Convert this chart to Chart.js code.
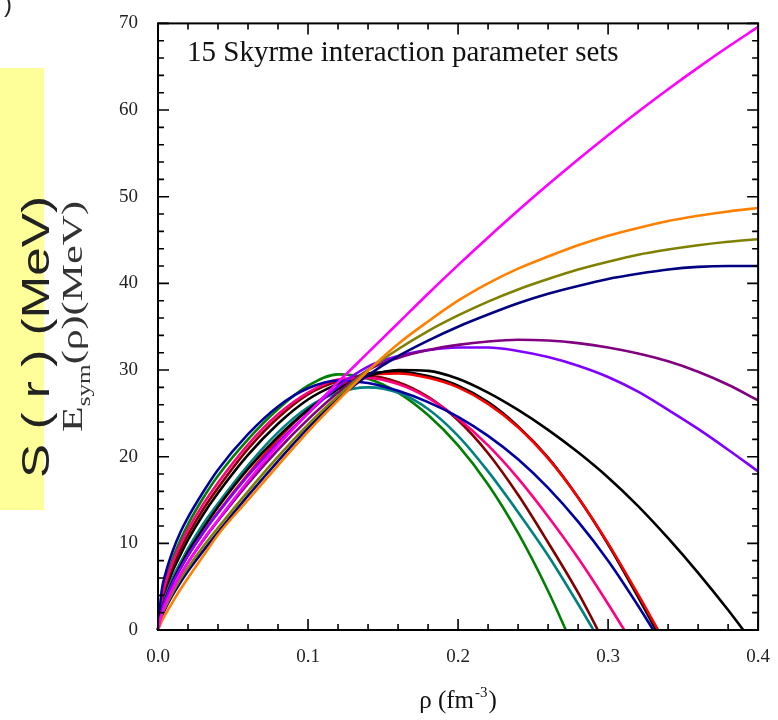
<!DOCTYPE html>
<html>
<head>
<meta charset="utf-8">
<script src="https://cdn.jsdelivr.net/npm/chart.js@4.4.1/dist/chart.umd.min.js"></script>
<style>
  html, body { margin: 0; padding: 0; background: #fff; }
  #wrap { width: 778px; height: 720px; }
</style>
</head>
<body>
<div id="wrap"><canvas id="chart" width="778" height="720"></canvas></div>
<script>
// density grid (fm^-3), denser near zero where the curves are steep
const rho = [0, 0.0025, 0.005, 0.01, 0.015, 0.02, 0.03, 0.04, 0.06, 0.08, 0.10, 0.12, 0.14,
             0.16, 0.18, 0.20, 0.22, 0.24, 0.26, 0.28, 0.30, 0.32, 0.34, 0.36, 0.38, 0.40];

// symmetry energy (MeV) for each parameter set
const magenta   = [0, 1.8, 3.0, 4.8, 6.4, 7.8, 10.4, 12.7, 17.2, 21.3, 25.0, 28.6, 32.0, 35.4, 38.8, 42.1, 45.3, 48.4, 51.4, 54.3, 57.1, 59.8, 62.4, 64.9, 67.3, 69.6];
const orange    = [0, 1.0, 1.8, 3.3, 4.7, 6.0, 8.5, 11.0, 15.0, 19.0, 22.9, 26.5, 29.9, 33.0, 35.6, 38.0, 40.0, 41.7, 43.1, 44.4, 45.5, 46.4, 47.2, 47.8, 48.3, 48.7];
const olive     = [0, 1.7, 2.7, 4.4, 5.9, 7.2, 9.6, 11.8, 16.0, 20.0, 23.7, 27.0, 30.0, 32.4, 34.5, 36.3, 37.9, 39.3, 40.5, 41.6, 42.5, 43.3, 43.9, 44.4, 44.8, 45.1];
const navy      = [0, 1.5, 2.5, 4.1, 5.5, 6.8, 9.1, 11.3, 15.5, 19.5, 23.3, 26.7, 29.4, 31.6, 33.4, 35.0, 36.4, 37.7, 38.8, 39.7, 40.5, 41.1, 41.6, 41.9, 42.0, 42.0];
const purple    = [0, 1.9, 3.0, 4.8, 6.4, 7.8, 10.3, 12.6, 16.9, 20.8, 24.3, 27.4, 30.0, 31.4, 32.3, 32.9, 33.3, 33.5, 33.4, 33.1, 32.6, 31.9, 31.0, 29.8, 28.3, 26.5];
const violet    = [0, 2.2, 3.5, 5.5, 7.1, 8.6, 11.2, 13.5, 17.8, 21.6, 25.0, 28.1, 30.4, 31.6, 32.3, 32.6, 32.6, 32.2, 31.5, 30.5, 29.2, 27.5, 25.4, 23.2, 20.8, 18.3];
const blackLong = [0, 2.3, 3.6, 5.7, 7.4, 9.0, 11.7, 14.2, 18.6, 22.3, 25.4, 27.8, 29.3, 30.0, 29.9, 29.0, 27.4, 25.4, 23.1, 20.5, 17.6, 14.3, 10.6, 6.6, 2.3, -2.3];
const red       = [0, 2.2, 3.5, 5.5, 7.1, 8.6, 11.2, 13.6, 18.0, 22.0, 25.4, 28.0, 29.4, 29.6, 29.1, 28.0, 26.1, 23.4, 19.8, 15.3, 10.0, 4.1, -2.1];
const black2    = [0, 3.0, 4.5, 6.9, 8.7, 10.4, 13.3, 15.8, 20.2, 23.8, 26.6, 28.4, 29.6, 29.8, 29.3, 28.2, 26.3, 23.5, 19.9, 15.3, 9.9, 3.8, -2.6];
const blue      = [0, 4.6, 6.5, 9.2, 11.3, 13.0, 15.9, 18.5, 22.6, 25.8, 27.9, 28.8, 28.5, 27.6, 26.3, 24.6, 22.4, 19.7, 16.4, 12.5, 8.0, 2.8, -2.8];
const pink      = [0, 3.7, 5.4, 7.9, 9.9, 11.6, 14.5, 17.0, 21.4, 24.9, 27.4, 28.9, 29.1, 28.4, 26.8, 24.4, 21.3, 17.5, 13.1, 8.3, 3.0, -2.6];
const brown     = [0, 3.3, 5.0, 7.4, 9.3, 11.0, 13.9, 16.4, 20.9, 24.5, 27.2, 28.7, 29.3, 28.6, 26.9, 24.2, 20.4, 15.6, 10.1, 4.3, -2.3];
const teal      = [0, 2.5, 3.9, 6.1, 7.8, 9.4, 12.2, 14.6, 19.0, 22.8, 25.7, 27.4, 28.0, 27.4, 25.5, 22.4, 18.3, 13.6, 8.6, 3.0, -2.9];
const green     = [0, 3.9, 5.7, 8.3, 10.4, 12.2, 15.2, 17.8, 22.0, 25.5, 28.2, 29.5, 29.0, 27.4, 24.8, 21.3, 16.8, 11.2, 4.5, -3.2];

const series = [
  [magenta, '#ff00ff'], [orange, '#ff8000'], [olive, '#808000'], [navy, '#000080'],
  [purple, '#800080'], [violet, '#8000ff'], [blackLong, '#000000'], [blue, '#0000a0'],
  [pink, '#ff0080'], [brown, '#800000'], [teal, '#008080'], [green, '#008000'],
  [red, '#ff0000'], [black2, '#000000']
];

const xTicks = [0, 0.1, 0.2, 0.3, 0.4];
const yTicks = [0, 10, 20, 30, 40, 50, 60, 70];

const datasets = series.map(([vals, col]) => ({
  data: vals.map((v, i) => ({ x: rho[i], y: v })),
  borderColor: col,
  borderWidth: 2.6,
  pointRadius: 0,
  fill: false,
  cubicInterpolationMode: 'monotone',
  clip: { left: 2, top: 2, right: 2, bottom: 0 }
}));

const serif = '"Liberation Serif", "Times New Roman", serif';

// frame with inward ticks on all sides, plus the loose texts around the plot
const decor = {
  id: 'decor',
  beforeDraw(chart) {
    const ctx = chart.ctx;
    ctx.save();
    ctx.fillStyle = '#fff';
    ctx.fillRect(0, 0, chart.width, chart.height);
    ctx.fillStyle = '#ffff99';
    ctx.fillRect(0, 68, 44, 442);
    ctx.restore();
  },
  afterDraw(chart) {
    const ctx = chart.ctx;
    const { left, right, top, bottom } = chart.chartArea;
    const xs = chart.scales.x, ys = chart.scales.y;
    ctx.save();
    ctx.strokeStyle = '#000';
    ctx.lineWidth = 2;
    ctx.strokeRect(left, top, right - left, bottom - top);
    ctx.lineWidth = 1.6;
    ctx.beginPath();
    for (let i = 0; i <= 20; i++) {
      const px = xs.getPixelForValue(i * 0.02);
      const len = i % 5 === 0 ? 11 : 6;
      ctx.moveTo(px, bottom); ctx.lineTo(px, bottom - len);
      ctx.moveTo(px, top); ctx.lineTo(px, top + len);
    }
    for (let i = 0; i <= 35; i++) {
      const py = ys.getPixelForValue(i * 2);
      const len = i % 5 === 0 ? 11 : 6;
      ctx.moveTo(left, py); ctx.lineTo(left + len, py);
      ctx.moveTo(right, py); ctx.lineTo(right - len, py);
    }
    ctx.stroke();

    // annotation
    ctx.fillStyle = '#111';
    ctx.font = '29px ' + serif;
    ctx.textBaseline = 'alphabetic';
    ctx.fillText('15 Skyrme interaction parameter sets', 187, 61);

    // x axis title with superscript
    ctx.font = '25px ' + serif;
    const a = 'ρ (fm';
    const wa = ctx.measureText(a).width;
    const wc = ctx.measureText(')').width;
    ctx.font = '15px ' + serif;
    const ws = ctx.measureText('-3').width;
    const cx = (left + right) / 2 - (wa + ws + 2 + wc) / 2;
    ctx.fillText('-3', cx + wa + 1, 697);
    ctx.font = '25px ' + serif;
    ctx.fillText(a, cx, 708);
    ctx.fillText(')', cx + wa + ws + 2, 708);

    // overlapping y labels at the left
    ctx.save();
    ctx.translate(49, 478);
    ctx.rotate(-Math.PI / 2);
    ctx.scale(1.35, 1);
    ctx.font = '38px "Liberation Sans", Arial, sans-serif';
    ctx.fillStyle = '#222';
    ctx.fillText('S ( r ) (MeV)', 0, 0);
    ctx.restore();

    ctx.save();
    ctx.translate(82, 432);
    ctx.rotate(-Math.PI / 2);
    ctx.scale(1.4, 1);
    ctx.fillStyle = '#333';
    ctx.font = '30px ' + serif;
    ctx.fillText('E', 0, 0);
    let e = ctx.measureText('E').width;
    ctx.font = '18px ' + serif;
    ctx.fillText('sym', e, 8);
    e += ctx.measureText('sym').width;
    ctx.font = '30px ' + serif;
    ctx.fillText('(ρ)(MeV)', e, 0);
    ctx.restore();

    ctx.font = '24px "Liberation Sans", sans-serif';
    ctx.fillStyle = '#222';
    ctx.fillText(')', 4, 12);
    ctx.restore();
  }
};

new Chart(document.getElementById('chart'), {
  type: 'line',
  data: { datasets: datasets },
  options: {
    responsive: false,
    animation: false,
    layout: { padding: { left: 0, top: 15, right: 16, bottom: 0 } },
    scales: {
      x: {
        type: 'linear',
        min: 0,
        max: 0.4,
        grid: { display: false },
        border: { display: false },
        afterFit: scale => { scale.height = 90; },
        afterBuildTicks: scale => { scale.ticks = xTicks.map(v => ({ value: v })); },
        ticks: {
          color: '#222',
          padding: 8,
          maxRotation: 0,
          autoSkip: false,
          font: { family: serif, size: 19 },
          callback: v => v.toFixed(1)
        }
      },
      y: {
        type: 'linear',
        min: 0,
        max: 70,
        grid: { display: false },
        border: { display: false },
        afterFit: scale => { scale.width = 158; },
        afterBuildTicks: scale => { scale.ticks = yTicks.map(v => ({ value: v })); },
        ticks: {
          color: '#222',
          padding: 12,
          autoSkip: false,
          font: { family: serif, size: 19 }
        }
      }
    },
    plugins: {
      legend: { display: false },
      tooltip: { enabled: false }
    }
  },
  plugins: [decor]
});
</script>
</body>
</html>
